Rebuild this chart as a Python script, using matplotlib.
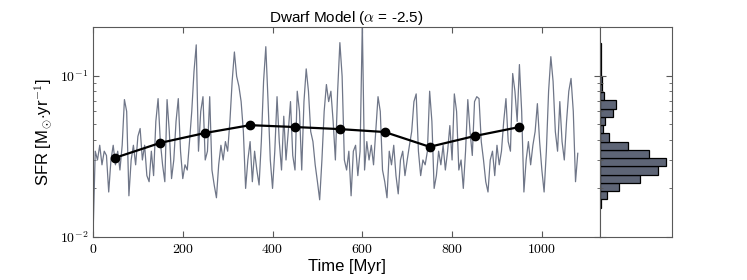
import numpy as np
import matplotlib
matplotlib.use("Agg")
import matplotlib.pyplot as plt
from matplotlib.ticker import FuncFormatter, LogLocator, NullFormatter

plt.rcParams['font.family'] = ['Liberation Sans', 'DejaVu Sans']
plt.rcParams['mathtext.fontset'] = 'cm'

#> Data
time_step = 5  # Myr between samples of the SFR history
sfr = [0.010, 0.034, 0.030, 0.037, 0.028, 0.034, 0.032, 0.019, 0.030, 0.037,
       0.028, 0.034, 0.026, 0.037, 0.071, 0.060, 0.018, 0.030, 0.037, 0.028,
       0.042, 0.047, 0.030, 0.037, 0.024, 0.022, 0.034, 0.024, 0.052, 0.072,
       0.039, 0.028, 0.022, 0.071, 0.045, 0.023, 0.030, 0.052, 0.072, 0.034,
       0.023, 0.028, 0.026, 0.039, 0.060, 0.106, 0.155, 0.034, 0.060, 0.074,
       0.030, 0.034, 0.074, 0.026, 0.021, 0.0175, 0.028, 0.037, 0.030, 0.039,
       0.034, 0.052, 0.092, 0.140, 0.099, 0.086, 0.069, 0.045, 0.020, 0.030,
       0.039, 0.022, 0.034, 0.026, 0.021, 0.039, 0.092, 0.151, 0.069, 0.030,
       0.020, 0.034, 0.074, 0.039, 0.026, 0.056, 0.030, 0.045, 0.069, 0.032,
       0.026, 0.080, 0.060, 0.026, 0.069, 0.110, 0.080, 0.045, 0.039, 0.028,
       0.022, 0.017, 0.030, 0.060, 0.088, 0.069, 0.080, 0.052, 0.030, 0.080,
       0.160, 0.099, 0.030, 0.026, 0.034, 0.018, 0.034, 0.037, 0.024, 0.034,
       0.210, 0.026, 0.039, 0.030, 0.037, 0.028, 0.045, 0.074, 0.060, 0.026,
       0.022, 0.0175, 0.034, 0.028, 0.037, 0.024, 0.0185, 0.030, 0.034, 0.024,
       0.030, 0.037, 0.045, 0.069, 0.077, 0.034, 0.024, 0.030, 0.028, 0.034,
       0.080, 0.052, 0.020, 0.024, 0.034, 0.028, 0.037, 0.026, 0.034, 0.049,
       0.030, 0.077, 0.060, 0.026, 0.030, 0.020, 0.034, 0.071, 0.045, 0.032,
       0.069, 0.074, 0.072, 0.039, 0.030, 0.022, 0.019, 0.030, 0.034, 0.024,
       0.037, 0.028, 0.034, 0.052, 0.072, 0.039, 0.034, 0.103, 0.080, 0.052,
       0.117, 0.060, 0.019, 0.030, 0.039, 0.028, 0.037, 0.045, 0.067, 0.039,
       0.026, 0.019, 0.034, 0.080, 0.131, 0.092, 0.045, 0.034, 0.069, 0.039,
       0.030, 0.052, 0.080, 0.096, 0.060, 0.022, 0.033]
time = np.arange(len(sfr)) * time_step

bin_centres = [50, 150, 250, 350, 450, 550, 650, 750, 850, 950]
bin_sfr = [0.031, 0.0383, 0.0441, 0.0493, 0.048, 0.0466, 0.0447, 0.0362, 0.0422, 0.048]

# histogram of log10(SFR): bin edges and counts, bottom to top
hist_log_edges = [-1.818, -1.767, -1.715, -1.664, -1.613, -1.562, -1.511, -1.460,
                  -1.409, -1.358, -1.307, -1.256, -1.204, -1.153, -1.102, -1.051,
                  -1.000, -0.949, -0.898, -0.847, -0.796]
hist_counts = [2, 20, 56, 119, 171, 196, 146, 84, 27, 8, 14, 39, 47, 11, 4, 5,
               1, 1, 1, 1]

lineColor = '#6f7688'
histColor = '#5e6576'
spineColor = '0.35'

#> Figure
fig = plt.figure(figsize=(7.47, 2.8), dpi=100)
ax = fig.add_axes([0.1245, 0.1536, 0.679, 0.75])
axH = fig.add_axes([0.8035, 0.1536, 0.096, 0.75], sharey=ax)

ax.plot(time, sfr, color=lineColor, lw=0.9)
ax.plot(bin_centres, bin_sfr, color='black', lw=1.6, marker='o', ms=6)

ax.set_yscale('log')
ax.set_ylim(0.01, 0.2)
ax.set_xlim(0, 1130)
ax.set_xticks([0, 200, 400, 600, 800, 1000])
ax.xaxis.set_major_formatter(FuncFormatter(lambda v, p: r'$%d$' % v))
ax.yaxis.set_major_locator(LogLocator(base=10))
ax.yaxis.set_minor_locator(LogLocator(base=10, subs=np.arange(2, 10)))
ax.yaxis.set_major_formatter(FuncFormatter(lambda v, p: r'$10^{%d}$' % round(np.log10(v))))
ax.yaxis.set_minor_formatter(NullFormatter())

ax.set_xlabel('Time [Myr]', fontsize=12, labelpad=2)
ax.set_ylabel(r'SFR [M$_{\odot}$$\cdot$yr$^{-1}$]', fontsize=12, labelpad=4)
ax.set_title(r'Dwarf Model ($\alpha$ = -2.5)', fontsize=11, pad=3)

axH.hist(10 ** np.array(hist_log_edges[:-1]), bins=10 ** np.array(hist_log_edges),
         weights=hist_counts, orientation='horizontal',
         color=histColor, edgecolor='black', lw=0.9)
axH.set_xlim(0, 213)
axH.set_xticks([])
axH.tick_params(labelleft=False)

for a in (ax, axH):
    a.tick_params(which='both', direction='in', top=True, right=True,
                  labelsize=10, color=spineColor)
    a.tick_params(which='major', length=4)
    a.tick_params(which='minor', length=2)
    for s in a.spines.values():
        s.set_color(spineColor)

fig.savefig('out.png', dpi=100)
